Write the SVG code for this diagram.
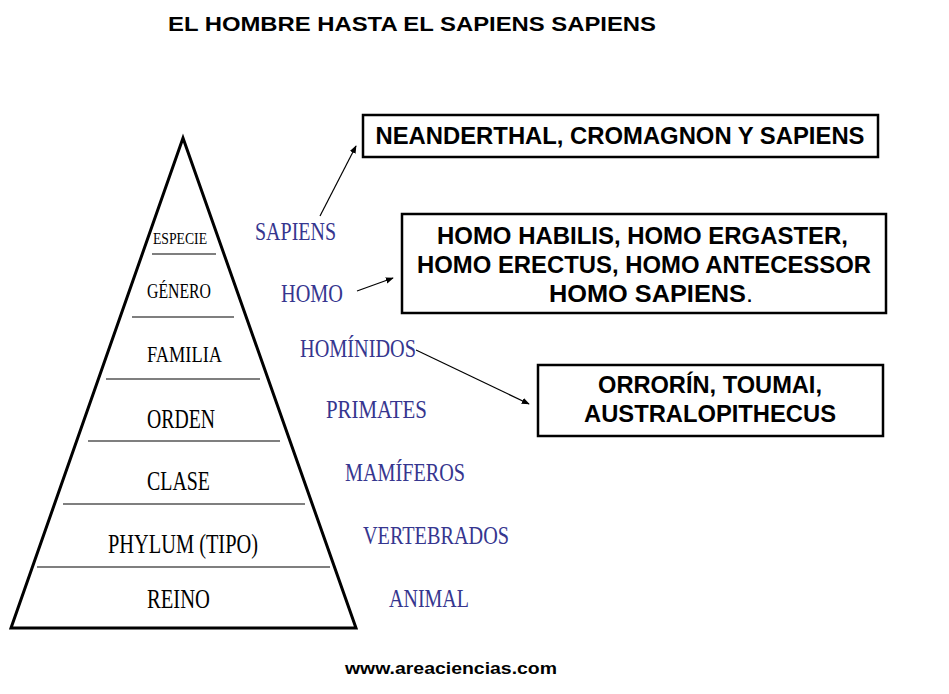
<svg xmlns="http://www.w3.org/2000/svg" width="949" height="694" viewBox="0 0 949 694">
<defs>
<style>
.title{font-family:"Liberation Sans",Arial,sans-serif;font-weight:bold;fill:#000;}
.lvl{font-family:"Liberation Serif","Times New Roman",serif;fill:#000;text-anchor:middle;}
.blue{font-family:"Liberation Serif","Times New Roman",serif;fill:#36368f;}
.box{fill:#fff;stroke:#000;stroke-width:2.5;}
.bt{font-family:"Liberation Sans",Arial,sans-serif;font-weight:bold;font-size:23px;fill:#000;text-anchor:middle;}
.sep{stroke:#000;stroke-width:1.2;}
.conn{stroke:#000;stroke-width:1.2;fill:none;marker-end:url(#ah);}
</style>
<marker id="ah" viewBox="0 0 10 10" refX="9" refY="5" markerWidth="8" markerHeight="8" markerUnits="userSpaceOnUse" orient="auto">
<path d="M0,1 L10,5 L0,9 Z" fill="#000"/>
</marker>
</defs>
<rect width="949" height="694" fill="#fff"/>
<text class="title" x="412" y="31" font-size="20" text-anchor="middle" textLength="488" lengthAdjust="spacingAndGlyphs">EL HOMBRE HASTA EL SAPIENS SAPIENS</text>

<g id="pyramid">
<polygon points="183,138 356,628 11,628" fill="none" stroke="#000" stroke-width="3" stroke-linejoin="miter"/>
<line class="sep" x1="152" y1="254" x2="216" y2="254"/>
<line class="sep" x1="132" y1="317" x2="234" y2="317"/>
<line class="sep" x1="106" y1="379" x2="260" y2="379"/>
<line class="sep" x1="88" y1="441" x2="280" y2="441"/>
<line class="sep" x1="63" y1="504" x2="305" y2="504"/>
<line class="sep" x1="37" y1="567" x2="330" y2="567"/>
</g>
<g id="lvl-especie"><text class="lvl" x="180" y="244" font-size="17" textLength="54" lengthAdjust="spacingAndGlyphs">ESPECIE</text></g>
<g id="lvl-genero"><text class="lvl" x="179" y="298" font-size="20" textLength="64" lengthAdjust="spacingAndGlyphs">GÉNERO</text></g>
<g id="lvl-familia"><text class="lvl" x="184.5" y="362" font-size="23" textLength="75" lengthAdjust="spacingAndGlyphs">FAMILIA</text></g>
<g id="lvl-orden"><text class="lvl" x="181" y="428" font-size="27" textLength="68" lengthAdjust="spacingAndGlyphs">ORDEN</text></g>
<g id="lvl-clase"><text class="lvl" x="178.5" y="490" font-size="27" textLength="63" lengthAdjust="spacingAndGlyphs">CLASE</text></g>
<g id="lvl-phylum"><text class="lvl" x="183" y="553" font-size="27" textLength="150" lengthAdjust="spacingAndGlyphs">PHYLUM (TIPO)</text></g>
<g id="lvl-reino"><text class="lvl" x="178.5" y="608" font-size="27" textLength="63" lengthAdjust="spacingAndGlyphs">REINO</text></g>

<g id="lbl-sapiens"><text class="blue" x="255" y="240" font-size="25" textLength="81" lengthAdjust="spacingAndGlyphs">SAPIENS</text></g>
<g id="lbl-homo"><text class="blue" x="281" y="302" font-size="25" textLength="62" lengthAdjust="spacingAndGlyphs">HOMO</text></g>
<g id="lbl-hominidos"><text class="blue" x="300" y="357" font-size="25" textLength="116" lengthAdjust="spacingAndGlyphs">HOMÍNIDOS</text></g>
<g id="lbl-primates"><text class="blue" x="326" y="418" font-size="25" textLength="101" lengthAdjust="spacingAndGlyphs">PRIMATES</text></g>
<g id="lbl-mamiferos"><text class="blue" x="345" y="481" font-size="25" textLength="120" lengthAdjust="spacingAndGlyphs">MAMÍFEROS</text></g>
<g id="lbl-vertebrados"><text class="blue" x="363" y="544" font-size="25" textLength="146" lengthAdjust="spacingAndGlyphs">VERTEBRADOS</text></g>
<g id="lbl-animal"><text class="blue" x="389" y="607" font-size="25" textLength="80" lengthAdjust="spacingAndGlyphs">ANIMAL</text></g>

<g id="box-neanderthal">
<rect class="box" x="363" y="115" width="515" height="42"/>
<text class="bt" x="620" y="144" font-size="22" textLength="489" lengthAdjust="spacingAndGlyphs">NEANDERTHAL, CROMAGNON Y SAPIENS</text>
</g>
<g id="box-homo">
<rect class="box" x="402" y="214" width="484" height="99"/>
<text class="bt" x="642.5" y="244" textLength="411" lengthAdjust="spacingAndGlyphs">HOMO HABILIS, HOMO ERGASTER,</text>
<text class="bt" x="644" y="273" textLength="454" lengthAdjust="spacingAndGlyphs">HOMO ERECTUS, HOMO ANTECESSOR</text>
<text class="bt" x="651" y="302" textLength="204" lengthAdjust="spacingAndGlyphs">HOMO SAPIENS<tspan font-weight="normal">.</tspan></text>
</g>
<g id="box-orrorin">
<rect class="box" x="538" y="365" width="345" height="71"/>
<text class="bt" x="710" y="393" textLength="224" lengthAdjust="spacingAndGlyphs">ORRORÍN, TOUMAI,</text>
<text class="bt" x="710" y="422" textLength="252" lengthAdjust="spacingAndGlyphs">AUSTRALOPITHECUS</text>
</g>

<g id="connectors">
<line class="conn" x1="320" y1="216" x2="356" y2="146"/>
<line class="conn" x1="357" y1="291" x2="393" y2="278"/>
<line class="conn" x1="416" y1="350" x2="529" y2="404"/>
</g>

<text class="title" x="451" y="674" font-size="17" text-anchor="middle" textLength="212" lengthAdjust="spacingAndGlyphs">www.areaciencias.com</text>
</svg>
